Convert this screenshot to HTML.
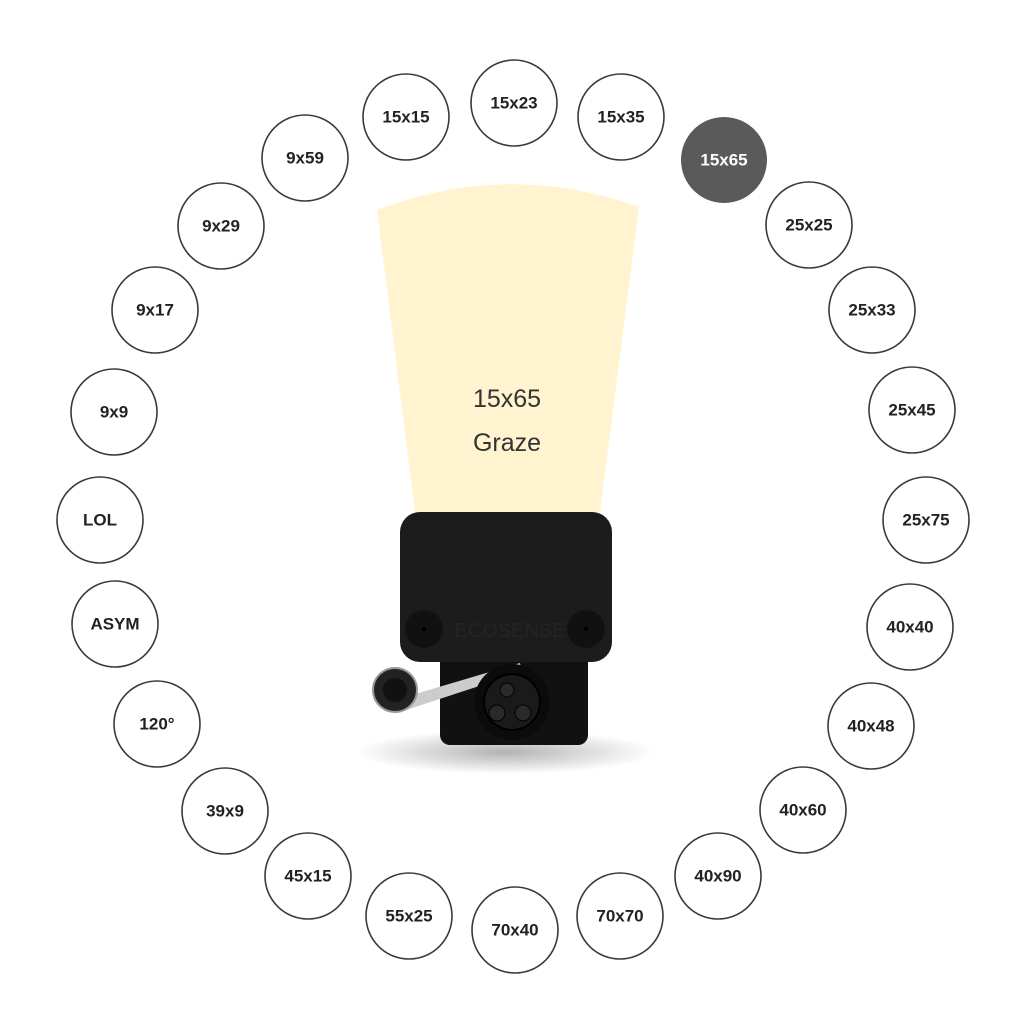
<!DOCTYPE html>
<html><head><meta charset="utf-8"><style>
html,body{margin:0;padding:0;background:#fff;}
svg{display:block}
.c{fill:#fff;stroke:#3a3a3a;stroke-width:1.6}
.t{font-family:"Liberation Sans",sans-serif;font-weight:bold;font-size:17px;fill:#222;text-anchor:middle;dominant-baseline:central}
</style></head><body>
<svg width="1024" height="1024" viewBox="0 0 1024 1024">
<defs>
<radialGradient id="sh" cx="50%" cy="50%" r="50%"><stop offset="0" stop-color="#000" stop-opacity="0.3"/><stop offset="1" stop-color="#000" stop-opacity="0"/></radialGradient>
</defs>
<path d="M377 210 Q508 160 639 207 L600 512 L415 512 Z" fill="#fff4cf"/>
<text x="507" y="407" font-family="Liberation Sans,sans-serif" font-size="25" fill="#333" text-anchor="middle">15x65</text>
<text x="507" y="451" font-family="Liberation Sans,sans-serif" font-size="25" fill="#333" text-anchor="middle">Graze</text>
<ellipse cx="505" cy="752" rx="150" ry="22" fill="url(#sh)"/>
<rect x="440" y="640" width="148" height="105" rx="10" fill="#111"/>
<rect x="400" y="512" width="212" height="150" rx="20" fill="#1c1c1c"/>
<circle cx="424" cy="629" r="19" fill="#111"/><circle cx="424" cy="629" r="2" fill="#000"/>
<circle cx="586" cy="629" r="19" fill="#111"/><circle cx="586" cy="629" r="2" fill="#000"/>
<text x="510" y="637" font-family="Liberation Sans,sans-serif" font-size="20" fill="#242424" text-anchor="middle">ECOSENSE</text>
<path d="M395 700 L520 663 L522 672 L400 712 Z" fill="#ccc"/>
<circle cx="395" cy="690" r="22" fill="#222" stroke="#999" stroke-width="2"/>
<circle cx="395" cy="690" r="12" fill="#111"/>
<circle cx="512" cy="702" r="38" fill="#0b0b0b"/>
<circle cx="512" cy="702" r="28" fill="#1a1a1a" stroke="#000" stroke-width="2"/>
<circle cx="507" cy="690" r="7" fill="#2a2a2a" stroke="#000"/>
<circle cx="497" cy="713" r="8" fill="#2a2a2a" stroke="#000"/>
<circle cx="523" cy="713" r="8" fill="#2a2a2a" stroke="#000"/>
<g>
<circle class="c" cx="514" cy="103" r="43"/><text class="t" x="514" y="103">15x23</text>
<circle class="c" cx="621" cy="117" r="43"/><text class="t" x="621" y="117">15x35</text>
<circle cx="724" cy="160" r="43" fill="#5a5a5a"/><text class="t" x="724" y="160" style="fill:#fff">15x65</text>
<circle class="c" cx="809" cy="225" r="43"/><text class="t" x="809" y="225">25x25</text>
<circle class="c" cx="872" cy="310" r="43"/><text class="t" x="872" y="310">25x33</text>
<circle class="c" cx="912" cy="410" r="43"/><text class="t" x="912" y="410">25x45</text>
<circle class="c" cx="926" cy="520" r="43"/><text class="t" x="926" y="520">25x75</text>
<circle class="c" cx="910" cy="627" r="43"/><text class="t" x="910" y="627">40x40</text>
<circle class="c" cx="871" cy="726" r="43"/><text class="t" x="871" y="726">40x48</text>
<circle class="c" cx="803" cy="810" r="43"/><text class="t" x="803" y="810">40x60</text>
<circle class="c" cx="718" cy="876" r="43"/><text class="t" x="718" y="876">40x90</text>
<circle class="c" cx="620" cy="916" r="43"/><text class="t" x="620" y="916">70x70</text>
<circle class="c" cx="515" cy="930" r="43"/><text class="t" x="515" y="930">70x40</text>
<circle class="c" cx="409" cy="916" r="43"/><text class="t" x="409" y="916">55x25</text>
<circle class="c" cx="308" cy="876" r="43"/><text class="t" x="308" y="876">45x15</text>
<circle class="c" cx="225" cy="811" r="43"/><text class="t" x="225" y="811">39x9</text>
<circle class="c" cx="157" cy="724" r="43"/><text class="t" x="157" y="724">120°</text>
<circle class="c" cx="115" cy="624" r="43"/><text class="t" x="115" y="624">ASYM</text>
<circle class="c" cx="100" cy="520" r="43"/><text class="t" x="100" y="520">LOL</text>
<circle class="c" cx="114" cy="412" r="43"/><text class="t" x="114" y="412">9x9</text>
<circle class="c" cx="155" cy="310" r="43"/><text class="t" x="155" y="310">9x17</text>
<circle class="c" cx="221" cy="226" r="43"/><text class="t" x="221" y="226">9x29</text>
<circle class="c" cx="305" cy="158" r="43"/><text class="t" x="305" y="158">9x59</text>
<circle class="c" cx="406" cy="117" r="43"/><text class="t" x="406" y="117">15x15</text>
</g>
</svg>
</body></html>
